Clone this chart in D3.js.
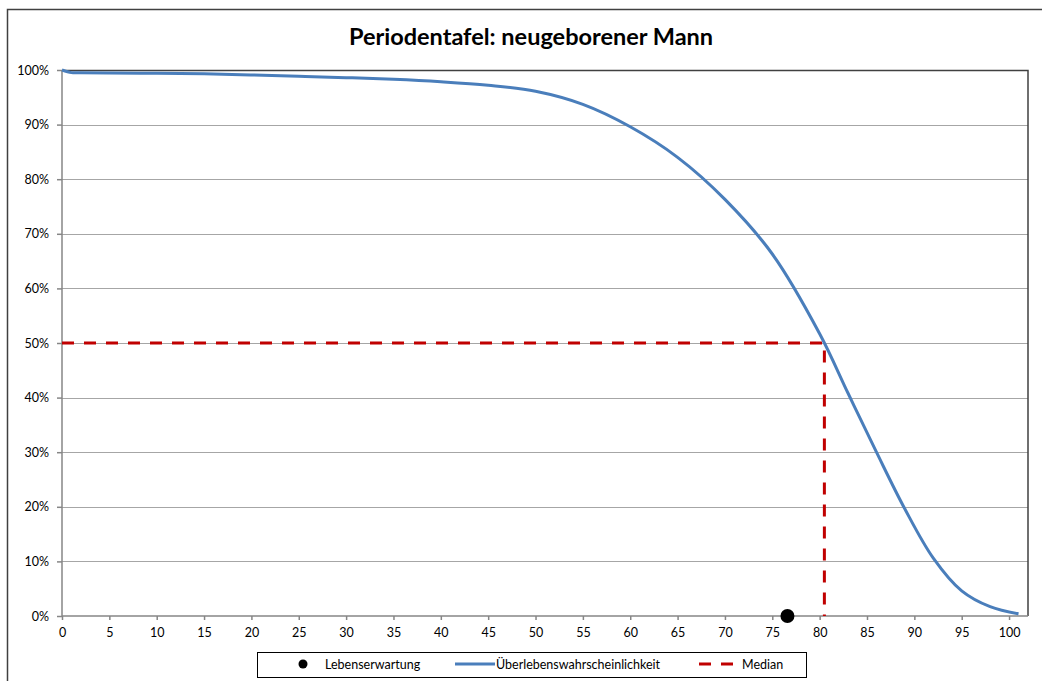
<!DOCTYPE html>
<html>
<head>
<meta charset="utf-8">
<script src="https://cdn.jsdelivr.net/npm/d3@7"></script>
<style>
  body { margin: 0; background: #fff; }
  svg { display: block; font-family: Lato, "Open Sans", sans-serif; }
</style>
</head>
<body>
<div class="chart"></div>
<script>
// survival curve (age in years, percent alive)
var ages = [0, 1, 2, 5, 10, 15, 20, 25, 30, 35, 40, 45, 50, 55, 60, 65, 70, 75, 80, 83, 86, 89, 92, 95, 98, 101];
var survival = [100, 99.52, 99.5, 99.45, 99.4, 99.3, 99.1, 98.85, 98.6, 98.3, 97.85, 97.2, 96.1, 93.7, 89.6, 84.0, 76.3, 66.3, 51.7, 40.8, 30.0, 19.6, 10.6, 4.6, 1.7, 0.4];
var medianAge = 80.5;
var lifeExpectancy = 76.6;
var xTicks = d3.range(0, 101, 5);
var yTicks = d3.range(0, 101, 10);
var legendLabels = ["Lebenserwartung", "Überlebenswahrscheinlichkeit", "Median"];

var svgWidth = 1042;
var svgHeight = 681;
var margin = {top: 70, right: 14, bottom: 65, left: 62};
var width = 1028 - margin.left;
var height = 616 - margin.top;

var svg = d3.select(".chart").append("svg")
  .attr("width", svgWidth)
  .attr("height", svgHeight);

// outer chart frame
svg.append("rect")
  .attr("x", 7.5).attr("y", 9.5)
  .attr("width", 1100).attr("height", 800)
  .attr("fill", "none").attr("stroke", "#404040").attr("stroke-width", 1.5);

svg.append("text")
  .attr("x", 531).attr("y", 45)
  .attr("text-anchor", "middle")
  .attr("font-size", 23.5).attr("font-weight", "bold")
  .text("Periodentafel: neugeborener Mann");

var chart = svg.append("g")
  .attr("transform", "translate(" + margin.left + "," + margin.top + ")");

var x = d3.scaleLinear().domain([0, 102]).range([0, width]);
var y = d3.scaleLinear().domain([0, 100]).range([height, 0]);

// gridlines
chart.append("g").selectAll("line")
  .data(yTicks.filter(function(d) { return d > 0 && d < 100; }))
  .enter().append("line")
  .attr("x1", 0).attr("x2", width)
  .attr("y1", function(d) { return Math.round(y(d)) + 0.5; })
  .attr("y2", function(d) { return Math.round(y(d)) + 0.5; })
  .attr("stroke", "#a6a6a6").attr("stroke-width", 1.2);

// plot frame top + right
chart.append("path")
  .attr("d", "M0,0.5H" + width + "V" + height)
  .attr("fill", "none").attr("stroke", "#404040").attr("stroke-width", 1.5);

var leftAxis = d3.axisLeft(y).tickValues(yTicks).tickSize(5).tickPadding(8)
  .tickFormat(function(d) { return d + "%"; });
var bottomAxis = d3.axisBottom(x).tickValues(xTicks).tickSize(4).tickPadding(8);

var gy = chart.append("g").call(leftAxis);
var gx = chart.append("g").attr("transform", "translate(0," + height + ")").call(bottomAxis);

[gx, gy].forEach(function(g) {
  g.selectAll("path, line").attr("stroke", "#868686").attr("stroke-width", 1.5);
  g.selectAll("text").attr("font-size", 12.5).attr("fill", "#000")
    .attr("font-family", "Lato, 'Open Sans', sans-serif");
});
gy.select(".domain").attr("d", "M0,0V" + height);
gx.select(".domain").attr("d", "M0,0H" + width);

// median lines
chart.append("path")
  .attr("d", "M0," + y(50) + "H" + x(medianAge) + "V" + height)
  .attr("fill", "none").attr("stroke", "#c00000")
  .attr("stroke-width", 3).attr("stroke-dasharray", "12,10");

var line = d3.line()
  .x(function(d, i) { return x(ages[i]); })
  .y(function(d) { return y(d); })
  .curve(d3.curveCatmullRom.alpha(0.5));

chart.append("path")
  .datum(survival)
  .attr("d", line)
  .attr("fill", "none").attr("stroke", "#4a7ebb").attr("stroke-width", 3);

chart.append("circle")
  .attr("cx", x(lifeExpectancy)).attr("cy", y(0)).attr("r", 7)
  .attr("fill", "#000");

// legend
var legend = svg.append("g");
legend.append("rect")
  .attr("x", 257.5).attr("y", 652.5).attr("width", 549).attr("height", 25)
  .attr("fill", "#fff").attr("stroke", "#000").attr("stroke-width", 1);

legend.append("circle").attr("cx", 303).attr("cy", 664).attr("r", 4.5).attr("fill", "#000");
legend.append("line").attr("x1", 455).attr("x2", 495).attr("y1", 664).attr("y2", 664)
  .attr("stroke", "#4a7ebb").attr("stroke-width", 3);
legend.append("line").attr("x1", 699).attr("x2", 741).attr("y1", 664).attr("y2", 664)
  .attr("stroke", "#c00000").attr("stroke-width", 3).attr("stroke-dasharray", "12,10");

var legendX = [325, 496, 742];
legend.selectAll("text.lbl")
  .data(legendLabels)
  .enter().append("text")
  .attr("class", "lbl")
  .attr("x", function(d, i) { return legendX[i]; })
  .attr("y", 669)
  .attr("font-size", 12.5)
  .text(function(d) { return d; });
</script>
</body>
</html>
